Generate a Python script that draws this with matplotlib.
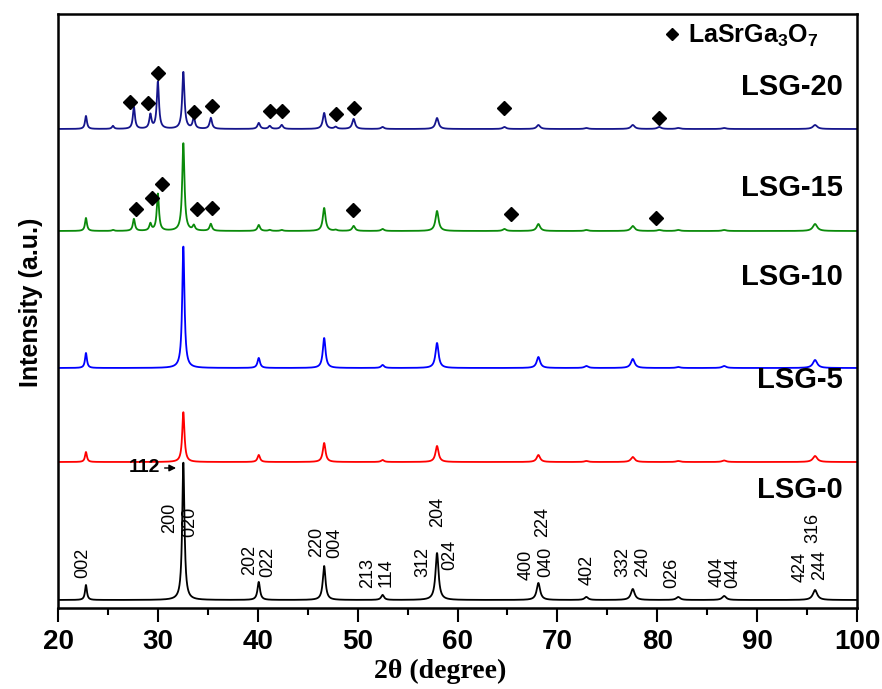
import numpy as np
import matplotlib.pyplot as plt

plt.rcParams['font.family'] = ['Liberation Sans', 'DejaVu Sans']
plt.rcParams['mathtext.fontset'] = 'custom'
plt.rcParams['mathtext.bf'] = 'Liberation Sans:bold'
plt.rcParams['mathtext.rm'] = 'Liberation Sans'

# main phase peaks (2theta) and heights
peaks_main = [22.8, 32.55, 40.1, 46.65, 52.5, 57.95, 68.1, 72.9, 77.55, 82.1, 86.7, 95.8]
h_lsg0 = [15, 138, 18, 34, 5, 47, 17, 3, 11, 3, 4, 10]
h_lsg5 = [10, 50, 7, 19, 2, 16, 7, 1, 5, 1, 1.5, 6]
h_lsg10 = [15, 122, 10, 30, 3, 25, 11, 2, 9, 1, 2, 8]
h_lsg15 = [13, 88, 6, 23, 2, 20, 7, 1, 5, 1, 1, 7]
h_lsg20 = [13, 57, 6, 16, 2, 11, 4, 1, 4, 1, 1, 4]

# LaSrGa3O7 secondary phase peaks
peaks_sec = [25.5, 27.6, 29.25, 30.0, 33.6, 35.3, 41.2, 42.4, 47.8, 49.6, 64.7, 80.2]
hs_lsg15 = [1, 12, 7, 37, 5, 7, 1, 1, 1, 5, 2, 1]
hs_lsg20 = [3, 22, 14, 47, 11, 11, 3, 4, 2, 10, 2, 2]

samples = ['LSG-0', 'LSG-5', 'LSG-10', 'LSG-15', 'LSG-20']
colors = ['#000000', '#ff0000', '#0000ff', '#0a8a0a', '#15158c']
offsets = [8, 146, 240, 377, 479]
label_y = [118, 228, 331, 420, 521]

# diamond markers (2theta, height)
d20_x = [27.21, 29.01, 30.01, 33.62, 35.42, 41.23, 42.43, 47.84, 49.64, 64.66, 80.18]
d20_y = [506, 505, 535, 496, 502, 497, 497, 494, 500, 500, 490]
d15_x = [27.81, 29.41, 30.41, 33.92, 35.42, 49.54, 65.36, 79.87]
d15_y = [399, 410, 424, 399, 400, 398, 394, 390]

# hkl labels for LSG-0: (text, 2theta, bottom)
hkl = [('002', 22.5, 30), ('200', 31.2, 75), ('020', 33.2, 71),
       ('202', 39.2, 33), ('022', 41.0, 31), ('220', 45.9, 51), ('004', 47.7, 50),
       ('213', 51.0, 20), ('114', 52.9, 21), ('312', 56.5, 31), ('204', 58.0, 81),
       ('024', 59.25, 38), ('400', 66.9, 28), ('040', 68.8, 31), ('224', 68.55, 71),
       ('402', 73.0, 23), ('332', 76.6, 31), ('240', 78.5, 31), ('026', 81.5, 20),
       ('404', 86.0, 21), ('044', 87.6, 20), ('424', 94.3, 26), ('244', 96.3, 28),
       ('316', 95.6, 65)]

two_theta = np.arange(20, 100.001, 0.02)


def pattern(pos, heights):
    y = np.zeros_like(two_theta)
    for c, h in zip(pos, heights):
        w = 0.22 + 0.004 * (c - 20)
        y += h / (1 + ((two_theta - c) / (w / 2)) ** 2)
    return y


main_h = [h_lsg0, h_lsg5, h_lsg10, h_lsg15, h_lsg20]
sec_h = [None, None, None, hs_lsg15, hs_lsg20]

fig = plt.figure(figsize=(8.82, 6.89), dpi=100)
ax = fig.add_axes([58 / 882, 81 / 689, 799 / 882, 594 / 689])

for i in range(5):
    y = pattern(peaks_main, main_h[i])
    if sec_h[i] is not None:
        y += pattern(peaks_sec, sec_h[i])
    ax.plot(two_theta, y + offsets[i], color=colors[i], lw=1.3)
    ax.text(98.6, label_y[i], samples[i], ha='right', va='center',
            fontsize=21, fontweight='bold')

ax.plot(d20_x, d20_y, 'D', color='black', ms=7, ls='none')
ax.plot(d15_x, d15_y, 'D', color='black', ms=7, ls='none')

# legend
ax.plot([81.48], [574], 'D', color='black', ms=6.5)
ax.text(83.1, 565, r'$\mathbf{LaSrGa_3O_7}$', fontsize=18, ha='left', va='baseline')

for t, x, yb in hkl:
    ax.text(x, yb, t, rotation=90, ha='center', va='bottom', fontsize=13)

ax.text(30.2, 140, '112', ha='right', va='center', fontsize=14, fontweight='bold')
ax.annotate('', xy=(32.1, 140), xytext=(30.4, 140),
            arrowprops=dict(arrowstyle='-|>', color='black', lw=1, mutation_scale=10))

ax.set_xlim(20, 100)
ax.set_ylim(0, 594)
ax.set_yticks([])
ax.set_xticks(range(20, 101, 10))
ax.set_xticks(range(25, 100, 10), minor=True)
ax.tick_params(axis='x', which='major', direction='out', length=10, width=1.5, pad=5)
ax.tick_params(axis='x', which='minor', direction='out', length=5, width=1.5)
for lab in ax.get_xticklabels():
    lab.set_fontweight('bold')
    lab.set_fontsize(20)
for s in ax.spines.values():
    s.set_linewidth(1.8)

ax.set_xlabel('2θ (degree)', fontfamily='Liberation Serif', fontweight='bold', fontsize=20)
ax.xaxis.set_label_coords(0.478, -0.086)
ax.set_ylabel('Intensity (a.u.)', fontsize=18, fontweight='bold')
ax.yaxis.set_label_coords(-0.019, 0.515)

fig.savefig('out.png', dpi=100)
